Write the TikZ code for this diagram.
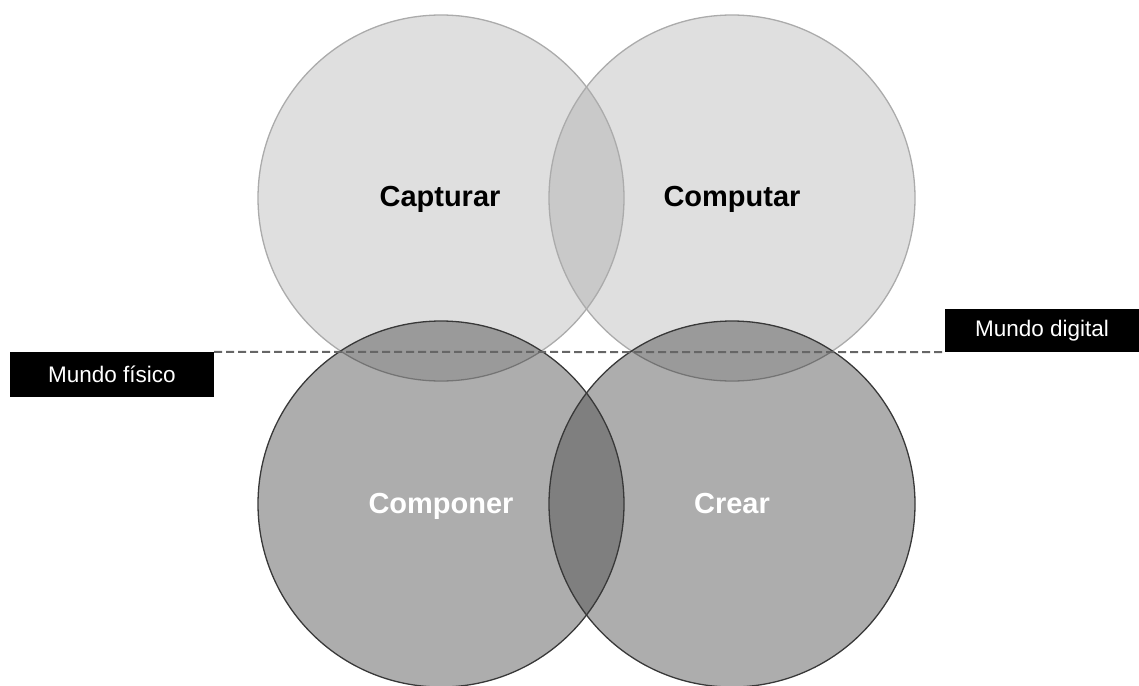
\documentclass[tikz,border=0pt]{standalone}
\usepackage{fontspec}
\setmainfont{Liberation Sans}
\definecolor{topfill}{HTML}{DFDFDF}
\definecolor{toplens}{HTML}{C9C9C9}
\definecolor{botfill}{HTML}{ADADAD}
\definecolor{mixfill}{HTML}{9A9A9A}
\definecolor{botlens}{HTML}{7F7F7F}
\definecolor{topline}{HTML}{ABABAB}
\definecolor{topline2}{HTML}{747474}
\definecolor{botline}{HTML}{383838}
\definecolor{dashcol}{HTML}{666666}
\begin{document}
\begin{tikzpicture}[x=1pt,y=-1pt,
  biglabel/.style={font=\fontsize{29}{31}\selectfont\bfseries,inner sep=0pt,anchor=base},
  worldbox/.style={fill=black,text=white,font=\fontsize{22.5}{25}\selectfont,inner sep=0pt,anchor=center}]
\useasboundingbox (0,0) rectangle (1139,685);
\def\R{183pt}
\coordinate (cTL) at (441,198);
\coordinate (cTR) at (732,198);
\coordinate (cBL) at (441,504);
\coordinate (cBR) at (732,504);
% top circles
\fill[topfill] (cTL) circle[radius=\R];
\fill[topfill] (cTR) circle[radius=\R];
\begin{scope}
  \clip (cTL) circle[radius=\R];
  \fill[toplens] (cTR) circle[radius=\R];
\end{scope}
% bottom circles
\fill[botfill] (cBL) circle[radius=\R];
\fill[botfill] (cBR) circle[radius=\R];
\begin{scope}
  \clip (cBL) circle[radius=\R];
  \fill[mixfill] (cTL) circle[radius=\R];
\end{scope}
\begin{scope}
  \clip (cBR) circle[radius=\R];
  \fill[mixfill] (cTR) circle[radius=\R];
\end{scope}
\begin{scope}
  \clip (cBL) circle[radius=\R];
  \fill[botlens] (cBR) circle[radius=\R];
\end{scope}
% outlines
\draw[topline,line width=1.3pt] (cTL) circle[radius=\R];
\draw[topline,line width=1.3pt] (cTR) circle[radius=\R];
\begin{scope}
  \clip (cBL) circle[radius=\R] (cBR) circle[radius=\R];
  \draw[topline2,line width=1.3pt] (cTL) circle[radius=\R];
  \draw[topline2,line width=1.3pt] (cTR) circle[radius=\R];
\end{scope}
\draw[botline,line width=1.3pt] (cBL) circle[radius=\R];
\draw[botline,line width=1.3pt] (cBR) circle[radius=\R];
% labels
\node[biglabel,text=black] (cap) at (440,206) {Capturar};
\node[biglabel,text=black] (comp) at (732,206) {Computar};
\node[biglabel,text=white] (compo) at (441,513) {Componer};
\node[biglabel,text=white] (crear) at (732,513) {Crear};
% world boxes
\node[worldbox,minimum width=204pt,minimum height=45pt] (fis) at (112,374.5) {Mundo físico};
\node[worldbox,minimum width=194pt,minimum height=43pt] (dig) at (1042,330.5) {Mundo digital};
\draw[dashcol,line width=2pt,dash pattern=on 8pt off 4pt] (fis.north east) -- (dig.south west);
\end{tikzpicture}
\end{document}
